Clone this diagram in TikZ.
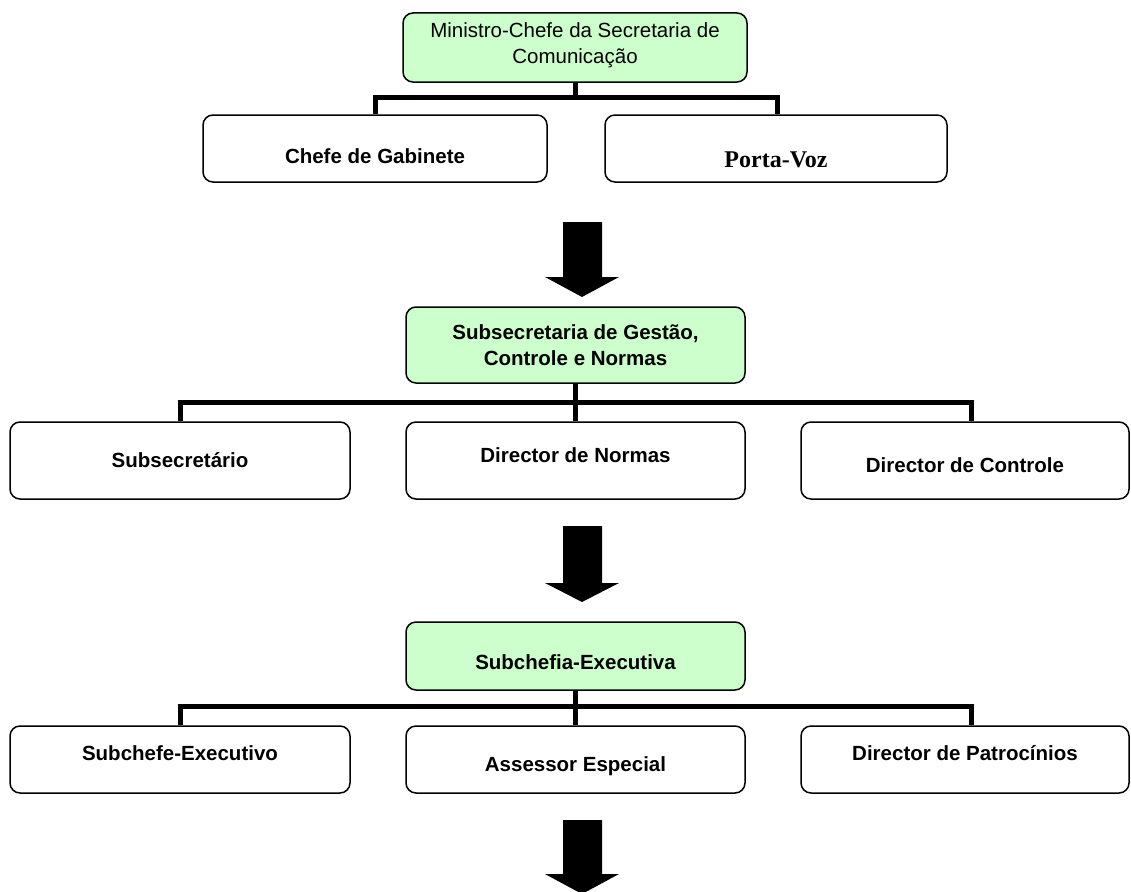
\documentclass[tikz,border=0pt]{standalone}
\usepackage{fontspec}
\setmainfont{Liberation Sans}
\newfontfamily\tnr{Liberation Serif}
\definecolor{boxgreen}{HTML}{CCFFCC}
\begin{document}
\begin{tikzpicture}[x=1pt,y=-1pt,
  box/.style={draw=black, line width=1.5pt, rounded corners=10pt, fill=white, inner sep=0pt},
  gbox/.style={box, fill=boxgreen},
  txt/.style={font=\fontsize{20.5}{26}\selectfont, align=center, inner sep=0pt},
  btxt/.style={txt, font=\fontsize{20.5}{26}\selectfont\bfseries},
  bus/.style={line width=5pt, line cap=butt, line join=miter},
  bigarrow/.style={fill=black}]
\useasboundingbox (0,0) rectangle (1131,891);
\clip (0,0) rectangle (1131,891);
\fill[white] (0,0) rectangle (1131,891);

% level 1
\node[gbox, minimum width=344pt, minimum height=69pt,
  label={[name=ltop, txt, yshift=2pt]center:Ministro-Chefe da Secretaria de\\Comunicação}] (top) at (575,47.5) {};
\node[box, minimum width=344pt, minimum height=67pt,
  label={[name=lchefe, btxt, yshift=-8pt]center:Chefe de Gabinete}] (chefe) at (375,148.5) {};
\node[box, minimum width=342pt, minimum height=67pt,
  label={[name=lporta, txt, font=\tnr\fontsize{24}{28}\selectfont\bfseries, yshift=-11pt]center:Porta-Voz}] (porta) at (776,148.5) {};

\draw[bus] (top.south) -- ++(0,16);
\draw[bus] (chefe.north) -- ++(0,-17) -| ([xshift=1pt]porta.north);

% arrow 1
\fill[bigarrow] (563,222) -- (602,222) -- (602,277) -- (619,277) -- (582,297) -- (545,277) -- (563,277) -- cycle;

% level 2
\node[gbox, minimum width=339pt, minimum height=76pt,
  label={[name=lb2, btxt]center:Subsecretaria de Gestão,\\Controle e Normas}] (b2) at (575.5,345) {};
\node[box, minimum width=340pt, minimum height=77pt,
  label={[name=lsub, btxt]center:Subsecretário}] (sub) at (180,460.5) {};
\node[box, minimum width=339pt, minimum height=77pt,
  label={[name=ldn, btxt, yshift=5pt]center:Director de Normas}] (dn) at (575.5,460.5) {};
\node[box, minimum width=328pt, minimum height=77pt,
  label={[name=ldc, btxt, yshift=-5pt]center:Director de Controle}] (dc) at (965,460.5) {};

\draw[bus] (b2.south) -- (dn.north);
\draw[bus] (sub.north) -- ++(0,-19) -| ([xshift=6pt]dc.north);

% arrow 2
\fill[bigarrow] (563,526) -- (602,526) -- (602,583) -- (619,583) -- (582,602) -- (545,583) -- (563,583) -- cycle;

% level 3
\node[gbox, minimum width=339pt, minimum height=68pt,
  label={[name=lb3, btxt, yshift=-6pt]center:Subchefia-Executiva}] (b3) at (575.5,656) {};
\node[box, minimum width=340pt, minimum height=67pt,
  label={[name=lse, btxt, yshift=6pt]center:Subchefe-Executivo}] (se) at (180,759.5) {};
\node[box, minimum width=339pt, minimum height=67pt,
  label={[name=lae, btxt, yshift=-7pt]center:Assessor Especial}] (ae) at (575.5,759.5) {};
\node[box, minimum width=328pt, minimum height=67pt,
  label={[name=ldp, btxt, yshift=6pt]center:Director de Patrocínios}] (dp) at (965,759.5) {};

\draw[bus] (b3.south) -- (ae.north);
\draw[bus] (se.north) -- ++(0,-19) -| ([xshift=6pt]dp.north);

% arrow 3
\fill[bigarrow] (563,820) -- (602,820) -- (602,874) -- (619,874) -- (582,894) -- (545,874) -- (563,874) -- cycle;
\end{tikzpicture}
\end{document}
